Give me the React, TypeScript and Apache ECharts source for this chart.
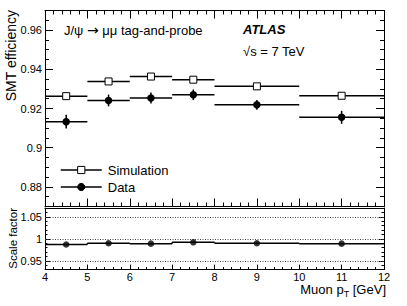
import React, { useEffect, useRef } from 'react';
import * as echarts from 'echarts';

const binLow = [4, 5, 6, 7, 8, 10];
const binHigh = [5, 6, 7, 8, 10, 12];
const binCenter = [4.5, 5.5, 6.5, 7.5, 9, 11];
const simulationEff = [0.9263, 0.9338, 0.9363, 0.9347, 0.9313, 0.9265];
const dataEff = [0.9133, 0.9241, 0.9253, 0.927, 0.9219, 0.9155];
const dataErr = [0.0035, 0.003, 0.0028, 0.0027, 0.0025, 0.0033];
const scaleFactor = [0.987, 0.99, 0.989, 0.992, 0.99, 0.989];
const effTicks = [0.88, 0.9, 0.92, 0.94, 0.96];
const sfTicks = [0.95, 1, 1.05];
const sfRefLines = [0.95, 1, 1.05];

const FONT = 'Liberation Sans, Arial, Helvetica, sans-serif';
const BLACK = '#000';

function textWidth(s: string, size: number) {
  const ctx = document.createElement('canvas').getContext('2d');
  if (!ctx) return s.length * size * 0.55;
  ctx.font = `${size}px ${FONT}`;
  return ctx.measureText(s).width;
}

export default function App() {
  const ref = useRef<HTMLDivElement>(null);
  useEffect(() => {
    if (!ref.current) return;
    const chart = echarts.init(ref.current, undefined, { renderer: 'svg' });
    const ls = { color: BLACK, width: 1 };

    const xAx = (grid: number, position: string, labels: boolean, major: number, minor: number) => ({
      type: 'value', gridIndex: grid, position, min: 4, max: 12, interval: 1,
      axisLine: { show: true, onZero: false, lineStyle: ls },
      axisTick: { show: major > 0, inside: true, length: major, lineStyle: ls },
      minorTick: { show: minor > 0, splitNumber: 5, length: minor, lineStyle: ls },
      axisLabel: { show: labels, fontSize: 11, fontFamily: FONT, color: BLACK, margin: 2 },
      splitLine: { show: false }, minorSplitLine: { show: false },
    });
    const yMinor = (grid: number, position: string, min: number, max: number, interval: number, len: number) => ({
      type: 'value', gridIndex: grid, position, min, max, interval,
      axisLine: { show: true, onZero: false, lineStyle: ls },
      axisTick: { show: true, inside: true, length: len, lineStyle: ls },
      axisLabel: { show: false }, splitLine: { show: false },
    });
    const yMajor = (grid: number, position: string, min: number, max: number, ticks: number[], len: number, labels: boolean) => ({
      type: 'value', gridIndex: grid, position, min, max,
      axisLine: { show: false, onZero: false },
      axisTick: { show: true, inside: true, length: len, lineStyle: ls, customValues: ticks },
      axisLabel: { show: labels, customValues: ticks, fontSize: 11, fontFamily: FONT, color: BLACK, margin: 3 },
      splitLine: { show: false },
    });

    const hBars = (lo: number[], hi: number[], y: number[], err: number[] | null, step: boolean) => ({
      type: 'custom',
      renderItem: (params: any, api: any) => {
        const i = params.dataIndex;
        const a = api.coord([lo[i], y[i]]);
        const b = api.coord([hi[i], y[i]]);
        const children: any[] = [
          { type: 'line', shape: { x1: a[0], y1: a[1], x2: b[0], y2: b[1] }, style: { stroke: BLACK, lineWidth: 1.5 } },
        ];
        if (err) {
          const c1 = api.coord([binCenter[i], y[i] - err[i]]);
          const c2 = api.coord([binCenter[i], y[i] + err[i]]);
          children.push({ type: 'line', shape: { x1: c1[0], y1: c1[1], x2: c2[0], y2: c2[1] }, style: { stroke: BLACK, lineWidth: 1.5 } });
        }
        if (step && i > 0) {
          const p = api.coord([lo[i], y[i - 1]]);
          children.push({ type: 'line', shape: { x1: a[0], y1: a[1], x2: p[0], y2: p[1] }, style: { stroke: BLACK, lineWidth: 1.5 } });
        }
        return { type: 'group', children };
      },
      data: binCenter.map((c, i) => [c, y[i]]),
      encode: { x: 0, y: 1 },
      z: 2,
      silent: true,
    });

    const titleRight = 386;
    const titleY = 289;
    const unitW = textWidth(' [GeV]', 13);
    const subW = textWidth('T', 9);
    const subX = titleRight - unitW - subW;

    chart.setOption({
      animation: false,
      backgroundColor: '#fff',
      grid: [
        { left: 45, right: 23, top: 10.5, height: 196 },
        { left: 45, right: 23, top: 208, height: 61.6 },
      ],
      xAxis: [
        xAx(0, 'bottom', false, 8, 4),
        xAx(0, 'top', false, 8, 4),
        xAx(1, 'bottom', true, 5, 2.5),
        xAx(1, 'top', false, 0, 0),
      ],
      yAxis: [
        yMinor(0, 'left', 0.87, 0.97, 0.005, 4),
        yMajor(0, 'left', 0.87, 0.97, effTicks, 8, true),
        yMinor(0, 'right', 0.87, 0.97, 0.005, 4),
        yMajor(0, 'right', 0.87, 0.97, effTicks, 8, false),
        yMinor(1, 'left', 0.93, 1.07, 0.01, 2.5),
        yMajor(1, 'left', 0.93, 1.07, sfTicks, 5, true),
        yMinor(1, 'right', 0.93, 1.07, 0.01, 2.5),
        yMajor(1, 'right', 0.93, 1.07, sfTicks, 5, false),
      ],
      legend: {
        data: ['Simulation', 'Data'], orient: 'vertical', left: 60, top: 163, padding: 0,
        itemWidth: 41, itemHeight: 9, itemGap: 3,
        textStyle: { fontSize: 13, fontFamily: FONT, color: BLACK, lineHeight: 14, padding: [0, 0, 0, 1] },
        lineStyle: { width: 1.5, color: BLACK, opacity: 1 },
        itemStyle: { borderWidth: 1 },
        selectedMode: false,
      },
      series: [
        { ...hBars(binLow, binHigh, simulationEff, null, false), xAxisIndex: 0, yAxisIndex: 0 },
        { ...hBars(binLow, binHigh, dataEff, dataErr, false), xAxisIndex: 0, yAxisIndex: 0 },
        {
          name: 'Simulation', type: 'line', xAxisIndex: 0, yAxisIndex: 0,
          data: binCenter.map((c, i) => [c, simulationEff[i]]),
          symbol: 'rect', symbolSize: 7, showSymbol: true,
          lineStyle: { opacity: 0 },
          itemStyle: { color: '#fff', borderColor: BLACK, borderWidth: 1 },
          z: 5, silent: true,
        },
        {
          name: 'Data', type: 'line', xAxisIndex: 0, yAxisIndex: 0,
          data: binCenter.map((c, i) => [c, dataEff[i]]),
          symbol: 'circle', symbolSize: 7.5, showSymbol: true,
          lineStyle: { opacity: 0 },
          itemStyle: { color: BLACK, borderColor: BLACK, borderWidth: 0 },
          z: 5, silent: true,
        },
        { ...hBars(binLow, binHigh, scaleFactor, null, true), xAxisIndex: 2, yAxisIndex: 4 },
        {
          name: 'Scale factor', type: 'scatter', xAxisIndex: 2, yAxisIndex: 4,
          data: binCenter.map((c, i) => [c, scaleFactor[i]]),
          symbol: 'circle', symbolSize: 6.5,
          itemStyle: { color: BLACK },
          z: 5, silent: true,
          markLine: {
            silent: true, symbol: 'none', label: { show: false },
            lineStyle: { type: [1, 1.5], color: '#444', width: 1 },
            data: sfRefLines.map((v) => ({ yAxis: v })),
          },
        },
      ],
      graphic: [
        {
          type: 'text', x: 64, y: 30,
          style: {
            text: '{t|J/ψ }{r|→}{t| μμ tag-and-probe}', fontSize: 13, fontFamily: FONT, fill: BLACK, verticalAlign: 'middle',
            rich: {
              t: { fontSize: 13, fontFamily: FONT, color: BLACK },
              r: { fontSize: 14, fontFamily: 'DejaVu Sans', color: BLACK },
            },
          },
        },
        { type: 'text', x: 243, y: 29, style: { text: 'ATLAS', fontSize: 13, fontWeight: 'bold', fontStyle: 'italic', fontFamily: FONT, fill: BLACK, verticalAlign: 'middle' } },
        { type: 'text', x: 243, y: 51, style: { text: '√s = 7 TeV', fontSize: 13, fontFamily: FONT, fill: BLACK, verticalAlign: 'middle' } },
        { type: 'text', x: 11, y: 10, rotation: Math.PI / 2, style: { text: 'SMT efficiency', fontSize: 14, fontFamily: FONT, fill: BLACK, align: 'right', verticalAlign: 'middle' } },
        { type: 'text', x: 13, y: 208, rotation: Math.PI / 2, style: { text: 'Scale factor', fontSize: 11.5, fontFamily: FONT, fill: BLACK, align: 'right', verticalAlign: 'middle' } },
        { type: 'text', x: titleRight, y: titleY, style: { text: ' [GeV]', fontSize: 13, fontFamily: FONT, fill: BLACK, align: 'right', verticalAlign: 'middle' } },
        { type: 'text', x: subX, y: titleY + 5, style: { text: 'T', fontSize: 9, fontFamily: FONT, fill: BLACK, align: 'left', verticalAlign: 'middle' } },
        { type: 'text', x: subX, y: titleY, style: { text: 'Muon p', fontSize: 13, fontFamily: FONT, fill: BLACK, align: 'right', verticalAlign: 'middle' } },
      ],
    });
    return () => chart.dispose();
  }, []);
  return <div ref={ref} style={{ position: 'fixed', left: 0, top: 0, width: 407, height: 306, background: '#fff' }} />;
}
